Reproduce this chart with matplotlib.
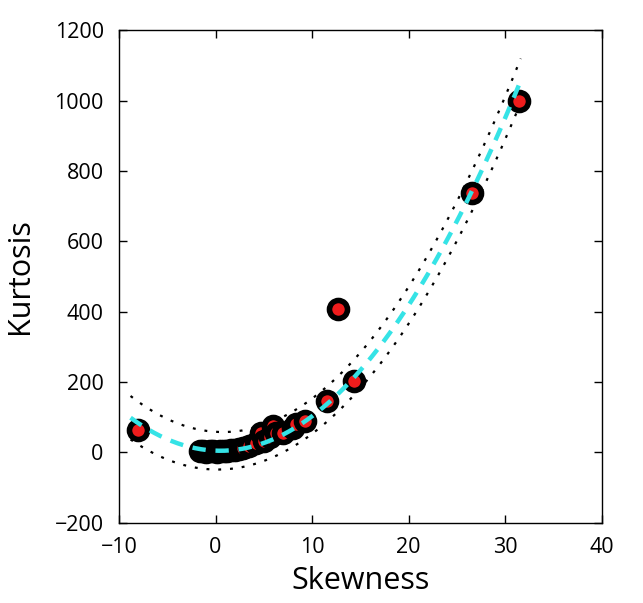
import matplotlib
matplotlib.use("Agg")
import matplotlib.pyplot as plt
import numpy as np

plt.rcParams["font.family"] = ["Open Sans", "DejaVu Sans"]

# scatter points (skewness, kurtosis)
skewness = [-8.0, -1.6, -1.3, -1.0, -0.6, -0.3, 0.2, 0.5, 0.9, 1.2, 1.6,
            2.0, 2.4, 2.8, 3.5, 4.2, 4.7, 5.0, 5.6, 6.0, 6.3, 7.0, 8.0,
            8.3, 9.3, 11.5, 12.7, 14.3, 26.6, 31.4]
kurtosis = [65, 4, 3, 2, 4, 3, 2, 5, 3, 4, 6,
            8, 10, 12, 18, 28, 55, 32, 45, 75, 55, 55, 70,
            80, 90, 145, 408, 204, 737, 998]

# quadratic fit and band
fit_coef = [1.087, -1.07, 5.0]
band_coef = [0.03, -0.66, 53.6]   # half width of dotted band
fit_range = [-8.8, 31.6]

xlim = (-10, 40)
ylim = (-200, 1200)
xticks = [-10, 0, 10, 20, 30, 40]
yticks = [-200, 0, 200, 400, 600, 800, 1000, 1200]

fig = plt.figure(figsize=(6.43, 6.03), dpi=100)
ax = fig.add_axes([0.185, 0.133, 0.751, 0.817])

xf = np.linspace(fit_range[0], fit_range[1], 200)
yf = np.polyval(fit_coef, xf)
hw = np.polyval(band_coef, xf)

ax.plot(xf, yf + hw, color="black", lw=1.6, linestyle=(0, (1.3, 4)), zorder=2)
ax.plot(xf, yf - hw, color="black", lw=1.6, linestyle=(0, (1.3, 4)), zorder=2)

ax.plot(skewness, kurtosis, linestyle="none", marker="o", ms=13, mew=4,
        mfc="#ee1c1c", mec="black", zorder=3)

ax.plot(xf, yf, color="#35e3e6", lw=3.2, dashes=(3, 2.2), zorder=4)

ax.set_xlim(*xlim)
ax.set_ylim(*ylim)
ax.set_xticks(xticks)
ax.set_yticks(yticks)
ax.set_xticklabels([str(t).replace("-", "\u2212") for t in xticks])
ax.set_yticklabels([str(t).replace("-", "\u2212") for t in yticks])
ax.tick_params(direction="in", length=6, width=1, top=True, right=True,
               labelsize=15.5)
ax.tick_params(axis="y", pad=11)
ax.tick_params(axis="x", pad=10)
for s in ax.spines.values():
    s.set_linewidth(1)

ax.set_xlabel("Skewness", fontsize=22, labelpad=6)
ax.set_ylabel("Kurtosis", fontsize=22, labelpad=14)

fig.savefig("out.png", dpi=100)
